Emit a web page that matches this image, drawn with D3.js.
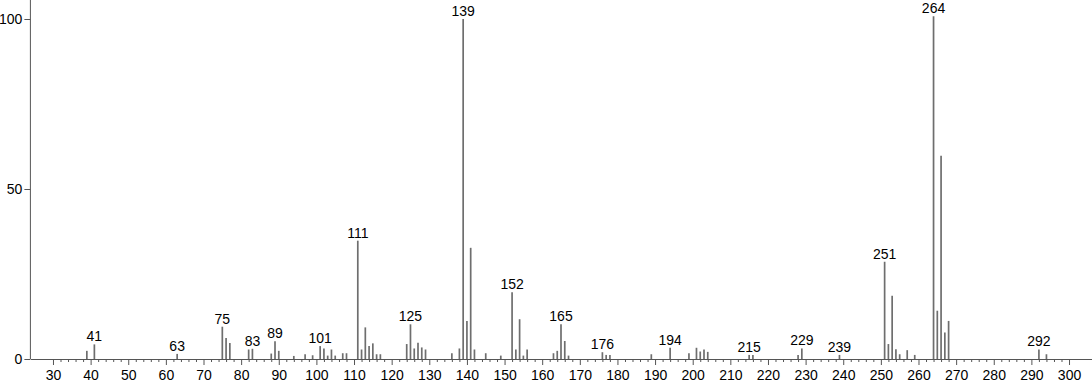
<!DOCTYPE html>
<html>
<head>
<meta charset="utf-8">
<script src="https://cdn.jsdelivr.net/npm/d3@7"></script>
<style>
  body { margin: 0; background: #fff; }
  svg { display: block; font-family: "Liberation Sans", Arial, sans-serif; }
  .axis path, .axis line { stroke: #555; }
  .axis text { fill: #000; font-size: 14px; }
  .peakLabel { font-size: 14px; fill: #000; }
</style>
</head>
<body>
<script>
// m/z values and relative intensity (%)
var mzValues = [39, 41, 63, 75, 76, 77, 82, 83, 88, 89, 90, 94, 97, 99, 101, 102, 103, 104, 105, 107, 108,
  111, 112, 113, 114, 115, 116, 117, 124, 125, 126, 127, 128, 129, 136, 138, 139, 140, 141, 142, 145, 149,
  152, 153, 154, 155, 156, 163, 164, 165, 166, 167, 176, 177, 178, 189, 194, 199, 201, 202, 203, 204,
  215, 216, 228, 229, 239, 251, 252, 253, 254, 255, 257, 259, 264, 265, 266, 267, 268, 292, 294];
var intensities = [2.4, 4.3, 1.5, 9.5, 6.2, 4.7, 2.8, 3.0, 1.6, 5.2, 2.4, 0.9, 1.4, 1.1, 3.8, 3.1, 1.0, 2.8, 1.0, 1.7, 1.7,
  34.8, 2.8, 9.3, 3.8, 4.6, 1.4, 1.4, 4.4, 10.2, 3.1, 4.8, 3.4, 2.8, 1.7, 3.1, 100, 11.2, 32.7, 2.8, 1.7, 1.0,
  19.6, 2.8, 11.7, 1.0, 2.8, 1.7, 2.4, 10.2, 5.3, 1.0, 2.0, 1.2, 1.2, 1.4, 3.3, 1.7, 3.3, 2.2, 2.8, 2.1,
  1.2, 1.2, 1.2, 3.1, 1.2, 28.6, 4.4, 18.6, 2.9, 1.4, 2.6, 1.2, 100.8, 14.2, 59.8, 7.8, 11.2, 2.8, 1.4];
// peaks that carry a text label
var labelledPeaks = [41, 63, 75, 83, 89, 101, 111, 125, 139, 152, 165, 176, 194, 215, 229, 239, 251, 264, 292];
var yTickValues = [0, 50, 100];

var width = 1092;
var height = 384;

var svg = d3.select("body")
  .append("svg")
  .attr("width", width)
  .attr("height", height);

var peaks = mzValues.map(function (m, i) {
  return { mz: m, value: intensities[i] };
});

// x 比例尺
var xScale = d3.scaleLinear()
  .domain([24, 306])
  .range([30.4, 1091.6]);

// y 比例尺
var yScale = d3.scaleLinear()
  .domain([0, 100])
  .range([359, 19]);

// 谱线
svg.selectAll(".peak")
  .data(peaks)
  .enter()
  .append("line")
  .attr("class", "peak")
  .attr("x1", function (d) { return xScale(d.mz); })
  .attr("x2", function (d) { return xScale(d.mz); })
  .attr("y1", yScale(0))
  .attr("y2", function (d) { return yScale(d.value); })
  .attr("stroke", "#6e6e6e")
  .attr("stroke-width", 1.7);

// 峰标签
svg.selectAll(".peakLabel")
  .data(peaks.filter(function (d) { return labelledPeaks.indexOf(d.mz) >= 0; }))
  .enter()
  .append("text")
  .attr("class", "peakLabel")
  .attr("text-anchor", "middle")
  .attr("x", function (d) { return xScale(d.mz); })
  .attr("y", function (d) { return yScale(d.value) - 3; })
  .text(function (d) { return d.mz; });

// x 轴
var xAxis = d3.axisBottom(xScale)
  .tickValues(d3.range(30, 301, 2))
  .tickSizeOuter(0)
  .tickPadding(5)
  .tickFormat(function (d) { return d % 10 === 0 ? d : ""; });

var gx = svg.append("g")
  .attr("class", "axis")
  .attr("transform", "translate(0," + yScale(0) + ")")
  .call(xAxis);

gx.selectAll(".tick line")
  .attr("y2", function (d) { return d % 10 === 0 ? 6 : 3; });

// y 轴
var yAxis = d3.axisLeft(yScale)
  .tickValues(yTickValues)
  .tickSizeOuter(0)
  .tickSize(6)
  .tickPadding(2);

var gy = svg.append("g")
  .attr("class", "axis")
  .attr("transform", "translate(" + xScale(24) + ",0)")
  .call(yAxis);

// y 轴延伸到顶部
gy.select(".domain")
  .attr("d", "M0," + yScale(0) + "V0");
</script>
</body>
</html>
